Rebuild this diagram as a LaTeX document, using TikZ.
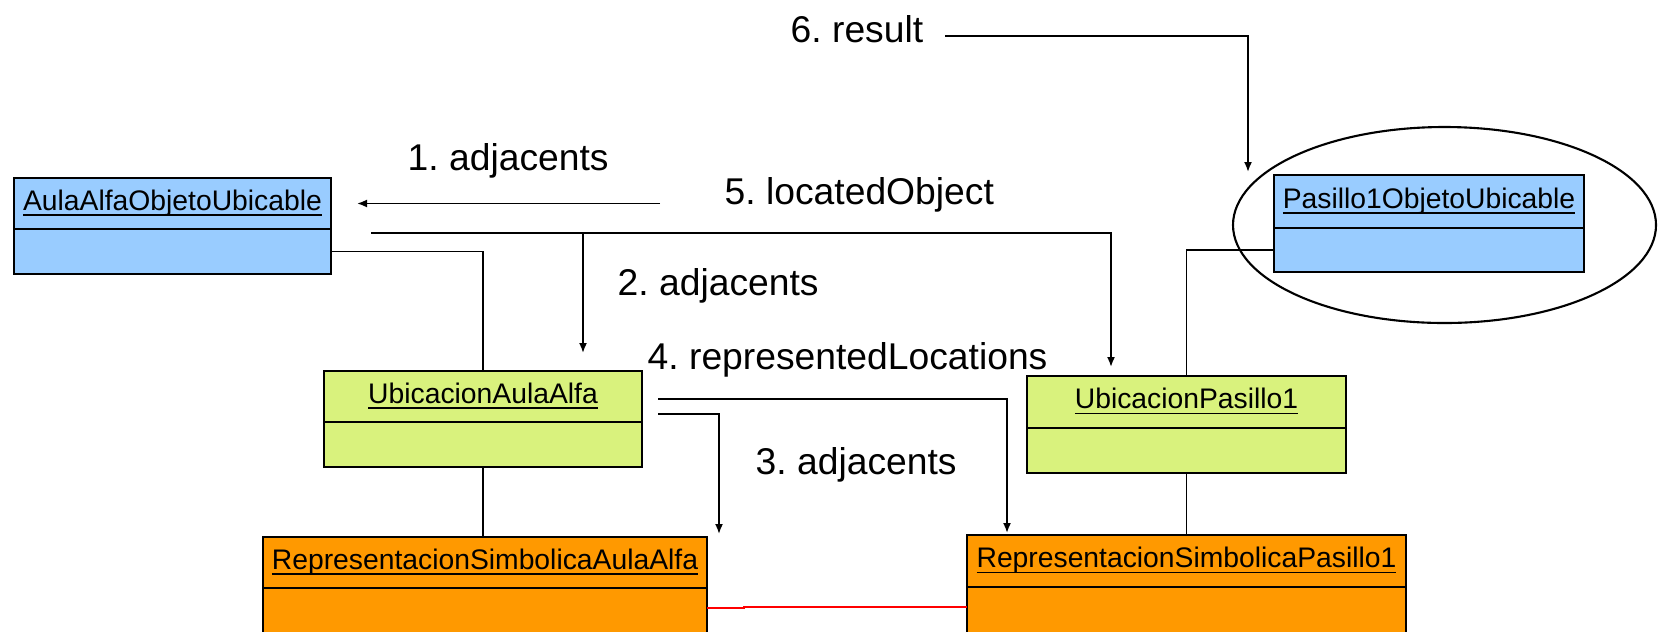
\documentclass[tikz,border=0pt]{standalone}
\usepackage{fontspec}
\setmainfont{Liberation Sans}
\usetikzlibrary{arrows.meta,positioning,shapes.geometric}
\frenchspacing

\begin{document}
\begin{tikzpicture}[x=0.1mm, y=-0.1mm,
    objname/.style={draw, line width=0.8pt, outer sep=0pt, inner sep=0pt, minimum height=5.1mm, font=\fontsize{8.05}{9}\selectfont},
    objbody/.style={draw, line width=0.8pt, outer sep=0pt, inner sep=0pt, minimum height=4.5mm},
    link/.style={line width=0.5pt},
    msg/.style={line width=0.5pt, -{Latex[length=1mm,width=0.8mm]}},
    msglabel/.style={anchor=base west, inner sep=0pt, font=\fontsize{10.6}{12}\selectfont}]
    % Define colors
    \definecolor{objblue}{RGB}{153, 204, 255}
    \definecolor{locgreen}{RGB}{217, 242, 125}
    \definecolor{reporange}{RGB}{255, 153, 0}

    % Picture frame
    \clip (0,0) rectangle (1662,631);

    % Located objects
    \node[objname, fill=objblue, minimum width=31.7mm] (aulaObj) at (172.5,203.5) {\underbar{AulaAlfaObjetoUbicable}};
    \node[objbody, fill=objblue, minimum width=31.7mm, below=0pt of aulaObj] (aulaObjB) {};
    \node[objname, fill=objblue, minimum width=31.0mm, minimum height=5.3mm] (pasObj) at (1429,201.5) {\underbar{Pasillo1ObjetoUbicable}};
    \node[objbody, fill=objblue, minimum width=31.0mm, minimum height=4.4mm, below=0pt of pasObj] (pasObjB) {};

    % Locations
    \node[objname, fill=locgreen, minimum width=31.8mm] (ubicAula) at (483,396.5) {\underbar{UbicacionAulaAlfa}};
    \node[objbody, fill=locgreen, minimum width=31.8mm, below=0pt of ubicAula] (ubicAulaB) {};
    \node[objname, fill=locgreen, minimum width=31.9mm, minimum height=5.2mm] (ubicPas) at (1186.5,402) {\underbar{UbicacionPasillo1}};
    \node[objbody, fill=locgreen, minimum width=31.9mm, below=0pt of ubicPas] (ubicPasB) {};

    % Symbolic representations
    \node[objname, fill=reporange, minimum width=44.4mm] (repAula) at (485,562.5) {\underbar{RepresentacionSimbolicaAulaAlfa}};
    \node[objbody, fill=reporange, minimum width=44.4mm, minimum height=7mm, below=0pt of repAula] (repAulaB) {};
    \node[objname, fill=reporange, minimum width=43.9mm, minimum height=5.2mm] (repPas) at (1186.5,561) {\underbar{RepresentacionSimbolicaPasillo1}};
    \node[objbody, fill=reporange, minimum width=43.9mm, minimum height=7mm, below=0pt of repPas] (repPasB) {};

    % Result marker
    \node[draw, ellipse, line width=0.6pt, inner sep=0pt, minimum width=42.3mm, minimum height=19.6mm] (focus) at (1444.5,225) {};

    % Links between objects
    \draw[link] (aulaObjB.east) -| (ubicAula.north);
    \draw[link] (pasObjB.west) -| (ubicPas.north);
    \draw[link] (ubicAulaB.south) -- (ubicAulaB.south |- repAula.north);
    \draw[link] (ubicPasB.south) -- (repPas.north);
    \draw[link, red] ([yshift=-2mm]repAula.south east) -- ++(37,0) |- ([yshift=-2mm]repPas.south west);

    % Message turning points
    \coordinate (m1) at (660,203.5);
    \coordinate (m2) at (371,233);
    \coordinate (m2fork) at (583,233);
    \coordinate (m5turn) at (1111,233);
    \coordinate (m6) at (945,36);
    \coordinate (m6turn) at (1248,36);
    \coordinate (m4) at (658,399);
    \coordinate (m4turn) at (1007,399);
    \coordinate (m3) at (658,414);
    \coordinate (m3turn) at (719,414);

    % Messages
    \draw[msg] (m1) -- ([xshift=2.6mm]aulaObj.east);
    \draw[link] (m2) -- (m2fork);
    \draw[msg, shorten >=1.8mm] (m2fork) -- (m2fork |- ubicAula.north);
    \draw[msg, shorten >=0.9mm] (m2fork) -- (m5turn) -- (m5turn |- ubicPas.north);
    \draw[msg, shorten >=0.3mm] (m3) -- (m3turn) -- (m3turn |- repAula.north);
    \draw[msg, shorten >=0.2mm] (m4) -- (m4turn) -- (m4turn |- repPas.north);
    \draw[msg, shorten >=0.3mm] (m6) -- (m6turn) -- (m6turn |- pasObj.north);

    % Message labels
    \node[msglabel] (l1) at (407,170) {1. adjacents};
    \node[msglabel] (l2) at (617,295) {2. adjacents};
    \node[msglabel] (l3) at (755,474) {3. adjacents};
    \node[msglabel] (l4) at (647,369) {4. representedLocations};
    \node[msglabel] (l5) at (724,204) {5. locatedObject};
    \node[msglabel] (l6) at (790,42) {6. result};

\end{tikzpicture}
\end{document}
